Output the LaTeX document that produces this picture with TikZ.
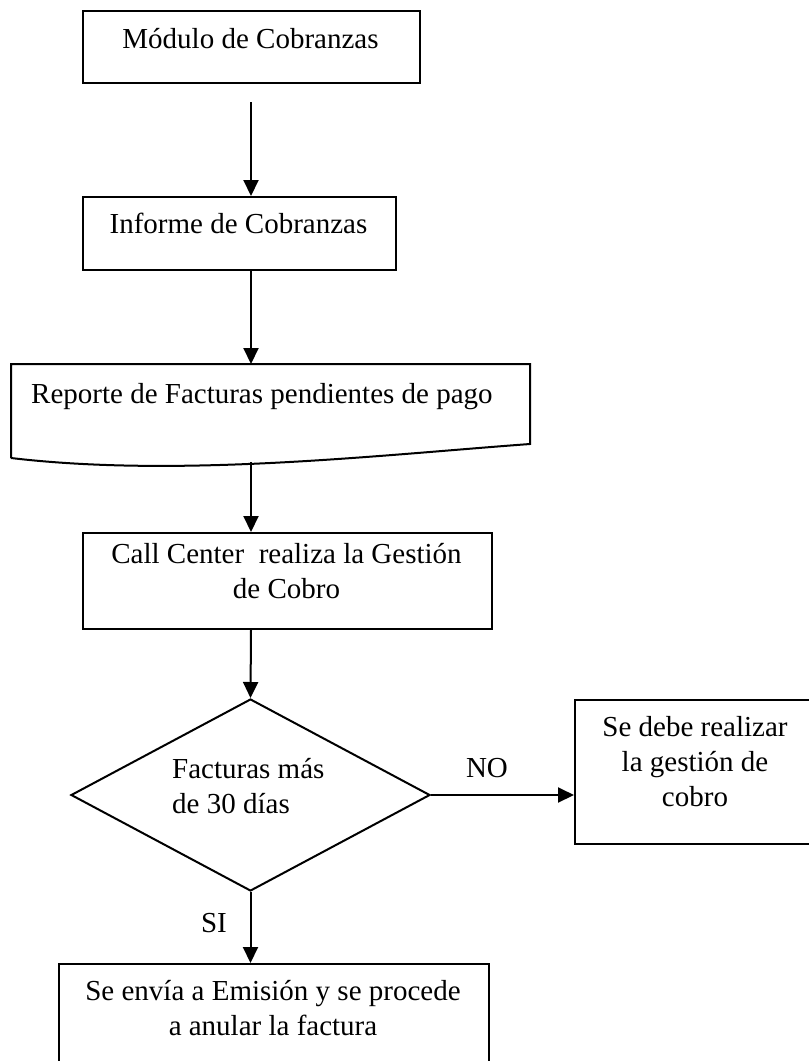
\documentclass[tikz,border=0pt]{standalone}
\usepackage{fontspec}
\setmainfont{Liberation Serif}
\usetikzlibrary{arrows.meta,shapes.geometric}
\begin{document}
\begin{tikzpicture}[x=1pt,y=-1pt,
  txt/.style={font=\fontsize{29}{35}\selectfont, inner sep=0pt, align=center},
  boxline/.style={draw=black, line width=2pt},
  procbox/.style={boxline, rectangle, inner sep=0pt, anchor=north west},
  arr/.style={line width=2pt, -{Triangle[length=16pt,width=15pt]}}]
\useasboundingbox (0,0) rectangle (809,1061);

% vertical axis shared by the main chain of arrows
\coordinate (spine) at (251,0);

% process boxes
\node[procbox, minimum width=337pt, minimum height=72pt] (b1) at (82,10) {};
\node[txt, anchor=base] (t1) at (250.5,48) {Módulo de Cobranzas};

\node[procbox, minimum width=313pt, minimum height=73pt] (b2) at (82,196) {};
\node[txt, anchor=base] (t2) at (238.5,233) {Informe de Cobranzas};

% document shape with wavy bottom edge
\coordinate (docNW) at (11,364);
\coordinate (docNE) at (530,364);
\coordinate (docSE) at (530,444);
\coordinate (docSW) at (11,458);
\coordinate (docBot) at (251,462);
\draw[boxline, line join=miter] (docSW) -- (docNW) -- (docNE) -- (docSE)
  .. controls (380,455) and (180,478) .. (docSW);
\node[txt, anchor=base west] (t3) at (31,403) {Reporte de Facturas pendientes de pago};

% multi-line labels are anchored on the baseline of their last line
\node[procbox, minimum width=409pt, minimum height=96pt] (b4) at (82,532) {};
\node[txt, anchor=base] (t4) at (286.5,598) {Call Center\ \ realiza la Gestión\\de Cobro};

% decision
\node[boxline, diamond, inner sep=0pt, minimum width=359pt, minimum height=192pt] (dia) at (250.5,795) {};
\node[txt, align=left, anchor=base west] (t5) at (172,813) {Facturas más\\de 30 días};

% outcomes (both run past the page edge)
\node[procbox, minimum width=242pt, minimum height=144pt] (rb) at (574,699) {};
\node[txt, anchor=base] (t6) at (695,806) {Se debe realizar\\la gestión de\\cobro};

\node[procbox, minimum width=430pt, minimum height=115pt] (bb) at (58,963) {};
\node[txt, anchor=base] (t7) at (273,1035) {Se envía a Emisión y se procede\\a anular la factura};

% branch labels
\node[txt, anchor=base] (no) at (487,777) {NO};
\node[txt, anchor=base] (si) at (214,932) {SI};

% connectors
\draw[arr] ([yshift=-18pt]b1.south -| spine) -- (b2.north -| spine);
\draw[arr] (b2.south -| spine) -- (docNE -| spine);
\draw[arr] (docBot) -- (b4.north -| spine);
\draw[arr] (b4.south -| spine) -- (dia.north);
\draw[arr] (dia.east) -- (dia.east -| rb.west);
\draw[arr] (dia.south) -- (bb.north -| dia.south);
\end{tikzpicture}
\end{document}
